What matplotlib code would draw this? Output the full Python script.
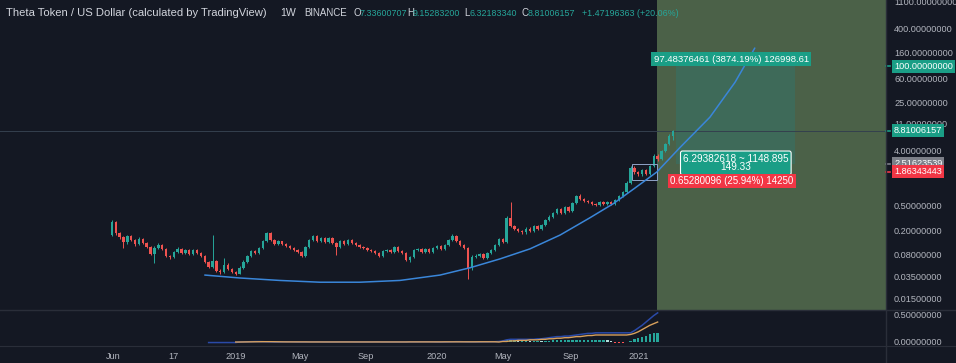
import numpy as np
import matplotlib
matplotlib.use("Agg")
import matplotlib.pyplot as plt
import matplotlib.transforms as mtransforms
from matplotlib.patches import Rectangle
from matplotlib.lines import Line2D
from matplotlib.ticker import NullLocator

# ---------------- data ----------------
first_open = 0.172
closes = [0.28, 0.185, 0.159, 0.132, 0.165, 0.143, 0.123, 0.148, 0.128, 0.110,
          0.084, 0.106, 0.118, 0.102, 0.078, 0.075, 0.091, 0.102, 0.088, 0.098,
          0.084, 0.098, 0.088, 0.078, 0.063, 0.052, 0.065, 0.0445, 0.042, 0.056,
          0.048, 0.043, 0.040, 0.050, 0.063, 0.078, 0.095, 0.088, 0.106, 0.137,
          0.185, 0.143, 0.123, 0.137, 0.123, 0.114, 0.106, 0.098, 0.091, 0.078,
          0.110, 0.143, 0.165, 0.137, 0.153, 0.132, 0.153, 0.128, 0.110, 0.137,
          0.123, 0.143, 0.128, 0.118, 0.110, 0.106, 0.098, 0.095, 0.088, 0.078,
          0.095, 0.098, 0.091, 0.110, 0.095, 0.088, 0.067, 0.075, 0.098, 0.102,
          0.091, 0.102, 0.091, 0.106, 0.114, 0.102, 0.118, 0.143, 0.165, 0.137,
          0.118, 0.106, 0.050, 0.075, 0.078, 0.084, 0.073, 0.088, 0.098, 0.118,
          0.148, 0.132, 0.33, 0.24, 0.215, 0.20, 0.19, 0.22, 0.20, 0.24,
          0.215, 0.25, 0.30, 0.34, 0.395, 0.46, 0.395, 0.50, 0.425, 0.58,
          0.75, 0.68, 0.62, 0.60, 0.56, 0.535, 0.60, 0.56, 0.60, 0.56,
          0.65, 0.75, 0.87, 1.23, 2.16, 1.86, 1.72, 2.0, 1.72, 2.33,
          3.39, 3.03, 4.1, 5.35, 7.336, 8.81]
highs = [0.30, 0.29, 0.195, 0.165, 0.175, 0.172, 0.150, 0.160, 0.155, 0.133,
         0.114, 0.112, 0.128, 0.123, 0.106, 0.082, 0.095, 0.108, 0.106, 0.103,
         0.102, 0.103, 0.101, 0.091, 0.080, 0.065, 0.172, 0.068, 0.047, 0.073,
         0.059, 0.050, 0.045, 0.053, 0.066, 0.082, 0.099, 0.099, 0.110, 0.143,
         0.195, 0.19, 0.148, 0.143, 0.140, 0.128, 0.118, 0.110, 0.102, 0.094,
         0.114, 0.150, 0.172, 0.170, 0.160, 0.158, 0.160, 0.158, 0.132, 0.143,
         0.142, 0.150, 0.148, 0.132, 0.123, 0.114, 0.110, 0.102, 0.098, 0.091,
         0.098, 0.102, 0.102, 0.114, 0.114, 0.098, 0.091, 0.078, 0.102, 0.106,
         0.106, 0.106, 0.106, 0.110, 0.118, 0.118, 0.123, 0.148, 0.178, 0.170,
         0.142, 0.123, 0.110, 0.080, 0.084, 0.088, 0.088, 0.091, 0.102, 0.123,
         0.155, 0.155, 0.35, 0.60, 0.25, 0.225, 0.21, 0.23, 0.23, 0.25,
         0.25, 0.26, 0.31, 0.36, 0.41, 0.48, 0.48, 0.52, 0.52, 0.60,
         0.78, 0.80, 0.70, 0.65, 0.62, 0.58, 0.62, 0.62, 0.62, 0.62,
         0.68, 0.78, 0.90, 1.30, 2.30, 2.30, 1.95, 2.1, 2.1, 2.45,
         3.6, 3.6, 4.3, 5.6, 7.8, 9.15]
lows = [0.165, 0.175, 0.150, 0.106, 0.125, 0.138, 0.115, 0.118, 0.122, 0.104,
        0.080, 0.060, 0.100, 0.098, 0.074, 0.070, 0.072, 0.088, 0.085, 0.085,
        0.081, 0.081, 0.085, 0.075, 0.060, 0.049, 0.050, 0.042, 0.039, 0.041,
        0.046, 0.041, 0.038, 0.039, 0.048, 0.061, 0.075, 0.085, 0.085, 0.102,
        0.132, 0.138, 0.118, 0.118, 0.118, 0.110, 0.102, 0.094, 0.088, 0.074,
        0.076, 0.106, 0.138, 0.132, 0.133, 0.128, 0.128, 0.123, 0.081, 0.106,
        0.118, 0.118, 0.123, 0.114, 0.106, 0.102, 0.094, 0.091, 0.084, 0.075,
        0.076, 0.091, 0.088, 0.088, 0.091, 0.084, 0.064, 0.063, 0.073, 0.094,
        0.088, 0.088, 0.088, 0.088, 0.102, 0.098, 0.098, 0.114, 0.138, 0.132,
        0.114, 0.102, 0.033, 0.046, 0.072, 0.075, 0.070, 0.070, 0.085, 0.094,
        0.114, 0.128, 0.128, 0.23, 0.205, 0.19, 0.18, 0.18, 0.19, 0.19,
        0.205, 0.205, 0.24, 0.29, 0.33, 0.38, 0.38, 0.38, 0.41, 0.41,
        0.56, 0.65, 0.60, 0.57, 0.54, 0.51, 0.52, 0.54, 0.54, 0.54,
        0.54, 0.63, 0.72, 0.84, 1.18, 1.75, 1.62, 1.62, 1.65, 1.66,
        2.25, 2.85, 2.9, 3.95, 5.1, 6.32]

# date axis (week index of each label)
date_labels = ["Jun", "17", "2019", "May", "Sep", "2020", "May", "Sep", "2021"]
date_pos = [0.3, 15.8, 32.0, 48.6, 65.6, 84.0, 101.0, 118.6, 136.2]

# price axis labels
price_ticks = [1100, 400, 160, 60, 25, 11, 4, 0.5, 0.2, 0.08, 0.035, 0.015]
price_tick_labels = ["1100.00000000", "400.00000000", "160.00000000", "60.00000000",
                     "25.00000000", "11.00000000", "4.00000000", "0.50000000",
                     "0.20000000", "0.08000000", "0.03500000", "0.01500000"]

# drawn curve (week index, price)
curve_week = [24.0, 33.1, 43.4, 53.7, 64.1, 74.4, 84.8, 92.5, 100.3, 108.0, 115.8,
              123.5, 129.5, 135.1, 140.8, 146.8, 154.5, 161.0, 166.1]
curve_price = [0.038, 0.034, 0.031, 0.029, 0.029, 0.031, 0.038, 0.050, 0.070, 0.102,
               0.172, 0.33, 0.56, 1.01, 1.86, 4.7, 14.7, 55.0, 200.0]

# position tool values
entry_price = 2.51623539
stop_price = 1.86343443
target_price = 100.0
last_price = 8.81006157

# indicator panel
ind_blue_start = 25
ind_blue = [-0.01, -0.01, -0.01, -0.01, -0.01, -0.01, -0.01, -0.01,
            0.0, 0.002, 0.004, 0.006, 0.008, 0.008, 0.006, 0.004, 0.002, 0.0,
            0.0, 0.002, 0.004, 0.004, 0.002, 0.0, 0.0, 0.0, 0.002, 0.002,
            0.002, 0.002, 0.0, 0.0, 0.0, 0.0, 0.002, 0.002, 0.002, 0.002,
            0.0, 0.0, 0.0, 0.0, 0.0, 0.002, 0.002, 0.0, 0.0, 0.0,
            0.0, 0.0, 0.0, 0.0, 0.002, 0.002, 0.002, 0.004, 0.004, 0.004,
            0.002, 0.0, 0.0, 0.0, 0.002, 0.004, 0.006, 0.006, 0.004, 0.002,
            0.002, 0.002, 0.002, 0.004, 0.004, 0.006, 0.006,
            0.01, 0.02, 0.04, 0.05, 0.05, 0.05, 0.05, 0.05, 0.05, 0.05,
            0.06, 0.06, 0.07, 0.08, 0.09, 0.10, 0.10, 0.11, 0.11, 0.12,
            0.13, 0.14, 0.15, 0.16, 0.16, 0.17, 0.17, 0.17, 0.17, 0.17,
            0.17, 0.17, 0.17, 0.17, 0.17, 0.21, 0.26, 0.31, 0.37, 0.43,
            0.49, 0.54]
ind_orange_start = 32
ind_orange = [0.0, 0.0, 0.001, 0.002, 0.003, 0.004, 0.005, 0.006, 0.006, 0.006,
              0.005, 0.004, 0.003, 0.002, 0.002, 0.002, 0.002, 0.002, 0.002, 0.001,
              0.001, 0.001, 0.001, 0.001, 0.001, 0.001, 0.001, 0.001, 0.001, 0.001,
              0.001, 0.001, 0.001, 0.001, 0.001, 0.001, 0.001, 0.001, 0.001, 0.001,
              0.001, 0.001, 0.001, 0.001, 0.001, 0.002, 0.002, 0.002, 0.002, 0.002,
              0.002, 0.002, 0.002, 0.002, 0.003, 0.003, 0.003, 0.003, 0.003, 0.003,
              0.003, 0.003, 0.003, 0.004, 0.004, 0.004, 0.004, 0.004,
              0.0, 0.01, 0.01, 0.02, 0.02, 0.03, 0.03, 0.03, 0.04, 0.04,
              0.04, 0.05, 0.05, 0.06, 0.06, 0.07, 0.07, 0.08, 0.08, 0.09,
              0.10, 0.10, 0.11, 0.12, 0.12, 0.13, 0.13, 0.13, 0.13, 0.13,
              0.13, 0.13, 0.13, 0.13, 0.14, 0.16, 0.19, 0.23, 0.27, 0.31,
              0.34, 0.37]
ind_hist_start = 100
ind_hist = [0.01, 0.02, 0.03, 0.03, 0.03, 0.02, 0.02, 0.02, 0.01, 0.01,
            0.02, 0.01, 0.02, 0.02, 0.03, 0.03, 0.03, 0.03, 0.03, 0.03,
            0.03, 0.04, 0.04, 0.04, 0.04, 0.04, 0.04, 0.04, 0.03, 0.02,
            -0.01, -0.01, -0.01, 0.0, 0.02, 0.06, 0.08, 0.10, 0.11, 0.14,
            0.16, 0.17]

# ---------------- style ----------------
W, H = 956, 363
BG = '#141823'
UP = '#26a69a'
DN = '#ef5350'
TXT = '#b2b5be'
GRID = '#2a2e39'
TEAL = '#1a9e86'
RED = '#f23645'
FONT = 'Liberation Sans'

fig = plt.figure(figsize=(W / 100, H / 100), dpi=100)
fig.patch.set_facecolor(BG)

XMIN, XMAX = -28.9, 200.0
ax = fig.add_axes([0, 53 / H, 886 / W, 310 / H])
ax.set_facecolor(BG)
ax.set_yscale('log')
ax.set_xlim(XMIN, XMAX)
ax.set_ylim(0.01016, 1227)
for s in ax.spines.values():
    s.set_visible(False)
ax.set_xticks([])
ax.yaxis.set_major_locator(NullLocator())
ax.yaxis.set_minor_locator(NullLocator())

# green highlighted region (drawing)
ax.axvspan(140.8, XMAX, color='#4b6148', zorder=0, lw=0)
# profit zone of the long position
ax.add_patch(Rectangle((145.7, entry_price), 30.8, target_price - entry_price,
                       facecolor='#3e6a59', edgecolor='none', zorder=0.5))

# last price line
ax.axhline(last_price, color='#34404e', lw=0.7, zorder=1)

# candles
x_week = np.arange(len(closes))
o = np.array([first_open] + closes[:-1])
c = np.array(closes)
h = np.array(highs)
l = np.array(lows)
col = np.where(c >= o, UP, DN)
ax.vlines(x_week, l, h, colors=col, lw=0.7, zorder=3)
ax.bar(x_week, np.abs(c - o), bottom=np.minimum(o, c), width=0.62, color=col,
       linewidth=0, zorder=4)

# consolidation box
ax.add_patch(Rectangle((134.4, 1.40), 6.4, 2.55 - 1.40, fill=False,
                       edgecolor='#8fa3c8', lw=0.7, zorder=5))

# curve
ax.plot(curve_week, curve_price, color='#3a86d9', lw=1.1, zorder=6,
        solid_capstyle='round')

# position labels
ax.text(160.0, 132, "97.48376461 (3874.19%) 126998.61", ha='center', va='center',
        fontsize=6.8, family=FONT, color='white', zorder=8,
        bbox=dict(boxstyle='square,pad=0.25', fc=TEAL, ec='none'))
ax.text(161.2, 2.62, "6.29382618 ~ 1148.895\n149.33", ha='center', va='center',
        fontsize=7.2, family=FONT, color='white', zorder=8, linespacing=0.85,
        bbox=dict(boxstyle='round,pad=0.25,rounding_size=0.2', fc=TEAL,
                  ec='white', lw=0.8))
ax.text(160.2, 1.32, "0.65280096 (25.94%) 14250", ha='center', va='center',
        fontsize=7.0, family=FONT, color='white', zorder=9,
        bbox=dict(boxstyle='square,pad=0.2', fc=RED, ec='none'))

# header
hy = 1 - 13 / 310
hdr = [(6, "Theta Token / US Dollar (calculated by TradingView)", '#d1d4dc', 8.1),
       (280, "1W", '#d1d4dc', 7.6), (304, "BINANCE", '#d1d4dc', 7.0),
       (353, "O", '#d1d4dc', 7.0), (359, "7.33600707", UP, 6.4),
       (407, "H", '#d1d4dc', 7.0), (413, "9.15283200", UP, 6.4),
       (464, "L", '#d1d4dc', 7.0), (469, "6.32183340", UP, 6.4),
       (522, "C", '#d1d4dc', 7.0), (528, "8.81006157", UP, 6.4),
       (582, "+1.47196363 (+20.06%)", UP, 6.4)]
for px, t, cc, fs in hdr:
    ax.text(px / 886, hy, t, transform=ax.transAxes, ha='left', va='center',
            fontsize=fs, family=FONT, color=cc, zorder=10)

# price axis labels
tr = mtransforms.blended_transform_factory(ax.transAxes, ax.transData)
lx = 1 + 8 / 886
for v, t in zip(price_ticks, price_tick_labels):
    ax.text(lx, v, t, transform=tr, ha='left', va='center', fontsize=6.6,
            family=FONT, color=TXT, clip_on=False, zorder=10)
badges = [(target_price, "100.00000000", TEAL),
          (last_price, "8.81006157", TEAL),
          (entry_price, "2.51623539", '#7c7f88'),
          (stop_price, "1.86343443", RED)]
for v, t, fc in badges:
    ax.text(lx, v, t, transform=tr, ha='left', va='center', fontsize=6.6,
            family=FONT, color='white', clip_on=False, zorder=11,
            bbox=dict(boxstyle='square,pad=0.22', fc=fc, ec='none'))
    ax.plot([1.0, 1 + 4 / 886], [v, v], transform=tr, color=fc, lw=1.2,
            clip_on=False, zorder=11)

# ---------------- indicator panel ----------------
ax2 = fig.add_axes([0, 17 / H, 886 / W, 36 / H])
ax2.set_facecolor(BG)
ax2.set_xlim(XMIN, XMAX)
ax2.set_ylim(-0.074, 0.593)
for s in ax2.spines.values():
    s.set_visible(False)
ax2.set_yticks([])
hx = ind_hist_start + np.arange(len(ind_hist))
hv = np.array(ind_hist)
prev = np.concatenate([[0.0], hv[:-1]])
hcol = np.where(hv >= 0, np.where(hv >= prev, '#26a69a', '#b2dfdb'),
                np.where(hv <= prev, '#ff5252', '#ffcdd2'))
ax2.bar(hx, hv, width=0.62, color=hcol, linewidth=0, zorder=2)
ax2.plot(ind_blue_start + np.arange(len(ind_blue)), ind_blue, color='#2a4aa8',
         lw=1.1, zorder=3)
ax2.plot(ind_orange_start + np.arange(len(ind_orange)), ind_orange,
         color='#d9a15c', lw=1.0, zorder=3)
ax2.set_xticks(date_pos)
ax2.set_xticklabels(date_labels)
ax2.tick_params(axis='x', length=0, pad=4, labelsize=6.6, colors=TXT)
for lab in ax2.get_xticklabels():
    lab.set_family(FONT)
tr2 = mtransforms.blended_transform_factory(ax2.transAxes, ax2.transData)
for v, t in [(0.5, "0.50000000"), (0.0, "0.00000000")]:
    ax2.text(lx, v, t, transform=tr2, ha='left', va='center', fontsize=6.6,
             family=FONT, color=TXT, clip_on=False)

# separators
fig.add_artist(Line2D([0, 1], [53 / H, 53 / H], color=GRID, lw=1.0))
fig.add_artist(Line2D([0, 1], [17 / H, 17 / H], color=GRID, lw=0.8))
fig.add_artist(Line2D([886 / W, 886 / W], [0, 1], color=GRID, lw=1.0))

fig.savefig("out.png", dpi=100, facecolor=BG)
